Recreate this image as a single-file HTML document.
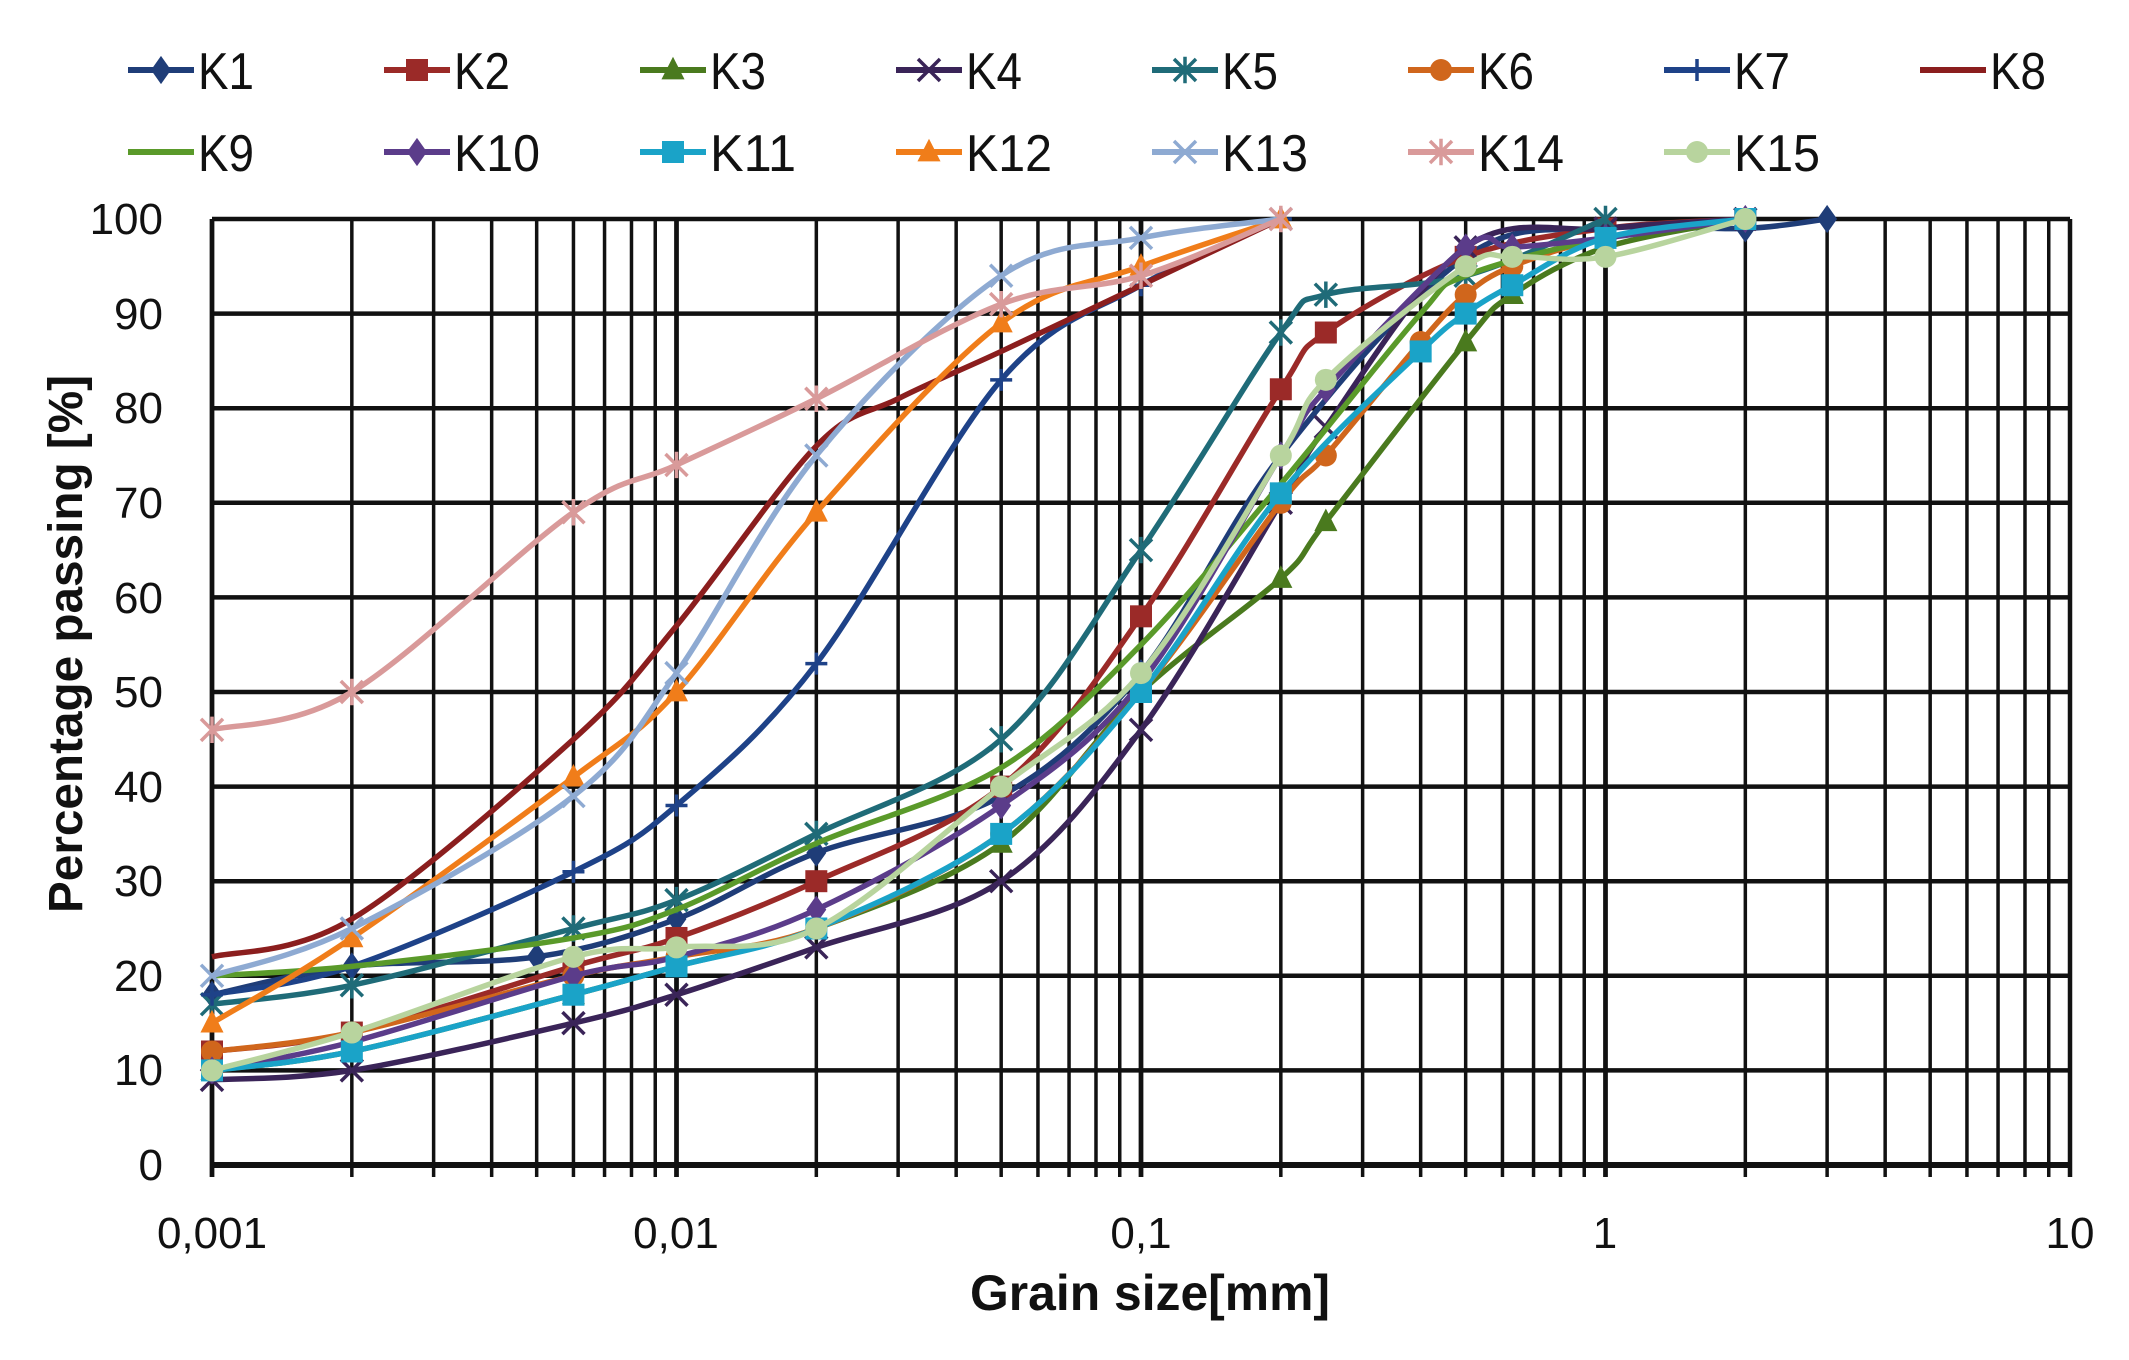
<!DOCTYPE html>
<html><head><meta charset="utf-8">
<style>
html,body{margin:0;padding:0;background:#fff;}
svg{display:block;}
text{font-family:"Liberation Sans",sans-serif;}
</style></head>
<body>
<svg id="c" width="2129" height="1360" viewBox="0 0 2129 1360" xmlns="http://www.w3.org/2000/svg">
<rect width="2129" height="1360" fill="#fff"/>
<g id="grid"></g>
<g id="series"></g>
<g id="legend"></g>
<g font-size="44" fill="#111">
<text x="163" y="234" text-anchor="end">100</text>
<text x="163" y="329" text-anchor="end">90</text>
<text x="163" y="423" text-anchor="end">80</text>
<text x="163" y="518" text-anchor="end">70</text>
<text x="163" y="613" text-anchor="end">60</text>
<text x="163" y="707" text-anchor="end">50</text>
<text x="163" y="802" text-anchor="end">40</text>
<text x="163" y="896" text-anchor="end">30</text>
<text x="163" y="991" text-anchor="end">20</text>
<text x="163" y="1085" text-anchor="end">10</text>
<text x="163" y="1180" text-anchor="end">0</text>
<text x="212" y="1248" text-anchor="middle">0,001</text>
<text x="676" y="1248" text-anchor="middle">0,01</text>
<text x="1141" y="1248" text-anchor="middle">0,1</text>
<text x="1605" y="1248" text-anchor="middle">1</text>
<text x="2070" y="1248" text-anchor="middle">10</text>
</g>
<text x="1150" y="1310" text-anchor="middle" font-size="50" font-weight="bold" fill="#111" textLength="360" lengthAdjust="spacingAndGlyphs">Grain size[mm]</text>
<text transform="translate(82,644) rotate(-90)" text-anchor="middle" font-size="48" font-weight="bold" fill="#111" textLength="538" lengthAdjust="spacingAndGlyphs">Percentage passing [%]</text>
</svg>
<script>
const L=212,R=2070,T=219,B=1165,D=(R-L)/4;
const X=d=>L+D*(Math.log10(d)+3), Y=p=>B-(B-T)*p/100;
const NS="http://www.w3.org/2000/svg";
function el(t,a,p){const e=document.createElementNS(NS,t);for(const k in a)e.setAttribute(k,a[k]);p.appendChild(e);return e;}
const g=document.getElementById('grid');
for(let p=0;p<=100;p+=10)el('line',{x1:L,x2:R,y1:Y(p),y2:Y(p),stroke:'#111','stroke-width':p==0?6:4.5},g);
for(let e=-3;e<1;e++)for(let m=1;m<=10;m++){const x=X(m*Math.pow(10,e));el('line',{x1:x,x2:x,y1:T,y2:B+12,stroke:'#111','stroke-width':(m==1||m==10)?4.5:3.5},g);}
el('line',{x1:L,x2:L,y1:T,y2:B+12,stroke:'#111','stroke-width':4.5},g);
const S=[
["K1","#1f3d78","diamond",[[.001,18],[.002,21],[.005,22],[.01,26],[.02,33],[.05,39],[.1,52],[.2,75],[.5,96],[1,99],[2,99],[3,100]]],
["K2","#9b2a28","square",[[.001,12],[.002,14],[.006,21],[.01,24],[.02,30],[.05,40],[.1,58],[.2,82],[.25,88],[.5,96],[1,99],[2,100]]],
["K3","#4a7a1e","triangle",[[.001,10],[.002,12],[.006,18],[.01,21],[.02,25],[.05,34],[.1,50],[.2,62],[.25,68],[.5,87],[.63,92],[1,97],[2,100]]],
["K4","#3a2458","x",[[.001,9],[.002,10],[.006,15],[.01,18],[.02,23],[.05,30],[.1,46],[.2,70],[.25,78],[.5,97],[1,99],[2,100]]],
["K5","#1f6b78","star",[[.001,17],[.002,19],[.006,25],[.01,28],[.02,35],[.05,45],[.1,65],[.2,88],[.25,92],[.5,94],[1,100]]],
["K6","#d0661c","circle",[[.001,12],[.002,14],[.006,20],[.01,22],[.02,25],[.05,35],[.1,50],[.2,70],[.25,75],[.4,87],[.5,92],[.63,95],[1,98],[2,100]]],
["K7","#1e4288","plus",[[.001,18],[.002,21],[.006,31],[.01,38],[.02,53],[.05,83],[.1,93],[.2,100]]],
["K8","#8b1e1e","none",[[.001,22],[.002,26],[.006,45],[.01,57],[.02,76],[.03,81],[.05,86],[.1,93],[.2,100]]],
["K9","#5a9a2a","none",[[.001,20],[.002,21],[.006,24],[.01,27],[.02,34],[.05,42],[.1,55],[.2,72],[.4,90],[.5,94],[1,98],[2,100]]],
["K10","#5b3c8a","diamond",[[.001,10],[.002,13],[.006,20],[.01,22],[.02,27],[.05,38],[.1,51],[.2,75],[.25,82],[.5,97],[.63,97],[1,98],[2,100]]],
["K11","#1aa3c8","square",[[.001,10],[.002,12],[.006,18],[.01,21],[.02,25],[.05,35],[.1,50],[.2,71],[.4,86],[.5,90],[.63,93],[1,98],[2,100]]],
["K12","#f07d1a","triangle",[[.001,15],[.002,24],[.006,41],[.01,50],[.02,69],[.05,89],[.1,95],[.2,100]]],
["K13","#8eaad2","x",[[.001,20],[.002,25],[.006,39],[.01,52],[.02,75],[.05,94],[.1,98],[.2,100]]],
["K14","#d99a9a","star",[[.001,46],[.002,50],[.006,69],[.01,74],[.02,81],[.05,91],[.1,94],[.2,100]]],
["K15","#b8d49e","circle",[[.001,10],[.002,14],[.006,22],[.01,23],[.02,25],[.05,40],[.1,52],[.2,75],[.25,83],[.5,95],[.63,96],[1,96],[2,100]]]
];
function path(pts){let d=`M${pts[0][0]},${pts[0][1]}`;for(let i=0;i<pts.length-1;i++){const p0=pts[i-1]||pts[i],p1=pts[i],p2=pts[i+1],p3=pts[i+2]||p2;const t=6;d+=` C${p1[0]+(p2[0]-p0[0])/t},${p1[1]+(p2[1]-p0[1])/t} ${p2[0]-(p3[0]-p1[0])/t},${p2[1]-(p3[1]-p1[1])/t} ${p2[0]},${p2[1]}`;}return d;}
function marker(type,x,y,c,p,s){s=s||11;
 if(type=='diamond')el('polygon',{points:`${x},${y-s*1.2} ${x+s*.85},${y} ${x},${y+s*1.2} ${x-s*.85},${y}`,fill:c,stroke:c},p);
 else if(type=='square')el('rect',{x:x-s,y:y-s,width:2*s,height:2*s,fill:c},p);
 else if(type=='triangle')el('polygon',{points:`${x},${y-s*1.2} ${x+s*1.05},${y+s*.85} ${x-s*1.05},${y+s*.85}`,fill:c},p);
 else if(type=='circle')el('circle',{cx:x,cy:y,r:s,fill:c},p);
 else if(type=='x'){el('path',{d:`M${x-s},${y-s}L${x+s},${y+s}M${x-s},${y+s}L${x+s},${y-s}`,stroke:c,'stroke-width':3.5},p);}
 else if(type=='star'){el('path',{d:`M${x-s},${y-s}L${x+s},${y+s}M${x-s},${y+s}L${x+s},${y-s}M${x},${y-s*1.2}L${x},${y+s*1.2}`,stroke:c,'stroke-width':3.5},p);}
 else if(type=='plus'){el('path',{d:`M${x-s},${y}L${x+s},${y}M${x},${y-s}L${x},${y+s}`,stroke:c,'stroke-width':3.5},p);}
}
const sg=document.getElementById('series');
S.forEach(([n,c,m,data])=>{const pts=data.map(([d,p])=>[X(d),Y(p)]);el('path',{d:path(pts),fill:'none',stroke:c,'stroke-width':5.5},sg);if(m!='none')pts.forEach(([x,y])=>marker(m,x,y,c,sg));});
const lg=document.getElementById('legend');
S.forEach(([n,c,m],i)=>{const row=i<8?0:1,col=i<8?i:i-8;const x=128+256*col,y=row?152:70;
 el('line',{x1:x,x2:x+66,y1:y,y2:y,stroke:c,'stroke-width':6},lg);if(m!='none')marker(m,x+33,y,c,lg,11);
 const t=el('text',{x:x+70,y:y+19,'font-size':52,fill:'#111',textLength:n.length==2?56:86,lengthAdjust:'spacingAndGlyphs'},lg);t.textContent=n;});
</script>
</body></html>
